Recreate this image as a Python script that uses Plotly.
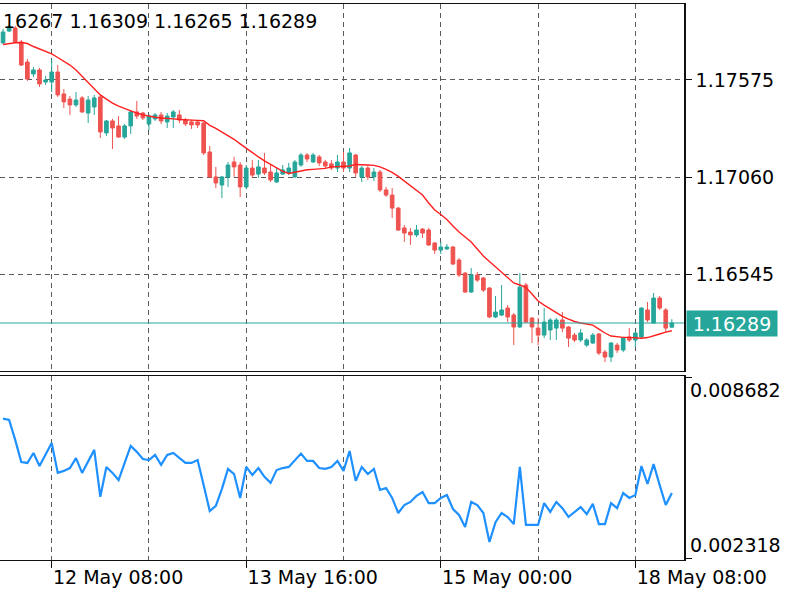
import plotly.graph_objects as go

# ---------------- data (EURUSD H1, 12 May 00:00 -> 18 May 14:00) ----------------
opens = [1.17771, 1.17834, 1.17850, 1.17776, 1.17670, 1.17607, 1.17628, 1.17564, 1.17564, 1.17617,
         1.17501, 1.17474, 1.17443, 1.17480, 1.17400, 1.17432, 1.17485, 1.17295, 1.17358, 1.17332,
         1.17273, 1.17332, 1.17406, 1.17400, 1.17342, 1.17369, 1.17390, 1.17353, 1.17379, 1.17390,
         1.17363, 1.17353, 1.17353, 1.17347, 1.17194, 1.17062, 1.17019, 1.17062, 1.17141, 1.17125,
         1.17009, 1.17109, 1.17077, 1.17109, 1.17088, 1.17035, 1.17077, 1.17083, 1.17062, 1.17125,
         1.17178, 1.17141, 1.17168, 1.17141, 1.17131, 1.17109, 1.17141, 1.17109, 1.17178, 1.17062,
         1.17109, 1.17062, 1.17088, 1.16993, 1.16966, 1.16897, 1.16792, 1.16770, 1.16755, 1.16786,
         1.16781, 1.16712, 1.16675, 1.16681, 1.16691, 1.16622, 1.16553, 1.16453, 1.16543, 1.16527,
         1.16474, 1.16321, 1.16331, 1.16368, 1.16331, 1.16268, 1.16490, 1.16315, 1.16262, 1.16225,
         1.16252, 1.16262, 1.16305, 1.16268, 1.16225, 1.16199, 1.16172, 1.16183, 1.16231, 1.16135,
         1.16109, 1.16172, 1.16146, 1.16215, 1.16199, 1.16215, 1.16358, 1.16289, 1.16421, 1.16358,
         1.16267]
highs = [1.17845, 1.17866, 1.17861, 1.17787, 1.17686, 1.17644, 1.17638, 1.17596, 1.17686, 1.17654,
         1.17527, 1.17490, 1.17511, 1.17490, 1.17490, 1.17496, 1.17496, 1.17363, 1.17369, 1.17384,
         1.17342, 1.17416, 1.17464, 1.17406, 1.17395, 1.17400, 1.17406, 1.17400, 1.17416, 1.17416,
         1.17374, 1.17363, 1.17363, 1.17353, 1.17226, 1.17115, 1.17067, 1.17141, 1.17168, 1.17141,
         1.17125, 1.17152, 1.17152, 1.17189, 1.17125, 1.17109, 1.17125, 1.17136, 1.17152, 1.17189,
         1.17189, 1.17189, 1.17178, 1.17152, 1.17152, 1.17178, 1.17194, 1.17215, 1.17184, 1.17120,
         1.17120, 1.17109, 1.17099, 1.17009, 1.17003, 1.16903, 1.16808, 1.16792, 1.16808, 1.16792,
         1.16792, 1.16718, 1.16718, 1.16707, 1.16697, 1.16633, 1.16559, 1.16580, 1.16559, 1.16532,
         1.16479, 1.16432, 1.16490, 1.16384, 1.16342, 1.16553, 1.16501, 1.16321, 1.16315, 1.16368,
         1.16315, 1.16315, 1.16347, 1.16273, 1.16236, 1.16257, 1.16209, 1.16236, 1.16236, 1.16146,
         1.16188, 1.16183, 1.16215, 1.16262, 1.16241, 1.16372, 1.16400, 1.16448, 1.16432, 1.16368,
         1.16309]
lows = [1.17766, 1.17829, 1.17771, 1.17649, 1.17570, 1.17591, 1.17538, 1.17549, 1.17511, 1.17485,
        1.17427, 1.17390, 1.17432, 1.17400, 1.17347, 1.17390, 1.17268, 1.17279, 1.17210, 1.17268,
        1.17263, 1.17289, 1.17369, 1.17363, 1.17310, 1.17358, 1.17342, 1.17321, 1.17321, 1.17347,
        1.17332, 1.17316, 1.17321, 1.17178, 1.17057, 1.17003, 1.16950, 1.17009, 1.17062, 1.16955,
        1.16998, 1.17057, 1.17057, 1.17072, 1.17035, 1.17030, 1.17072, 1.17072, 1.17057, 1.17115,
        1.17141, 1.17136, 1.17120, 1.17109, 1.17099, 1.17088, 1.17088, 1.17088, 1.17062, 1.17035,
        1.17046, 1.17041, 1.16982, 1.16956, 1.16845, 1.16776, 1.16718, 1.16702, 1.16744, 1.16739,
        1.16697, 1.16654, 1.16654, 1.16675, 1.16596, 1.16532, 1.16448, 1.16448, 1.16506, 1.16453,
        1.16315, 1.16315, 1.16326, 1.16294, 1.16172, 1.16262, 1.16289, 1.16183, 1.16172, 1.16209,
        1.16199, 1.16199, 1.16241, 1.16162, 1.16188, 1.16188, 1.16162, 1.16178, 1.16119, 1.16082,
        1.16082, 1.16130, 1.16135, 1.16188, 1.16162, 1.16209, 1.16294, 1.16284, 1.16358, 1.16241,
        1.16265]
closes = [1.17829, 1.17856, 1.17776, 1.17654, 1.17580, 1.17628, 1.17554, 1.17575, 1.17617, 1.17496,
          1.17459, 1.17443, 1.17469, 1.17406, 1.17469, 1.17480, 1.17300, 1.17358, 1.17321, 1.17273,
          1.17332, 1.17406, 1.17384, 1.17374, 1.17384, 1.17390, 1.17358, 1.17384, 1.17406, 1.17363,
          1.17342, 1.17337, 1.17337, 1.17189, 1.17062, 1.17030, 1.17062, 1.17125, 1.17115, 1.17009,
          1.17109, 1.17072, 1.17115, 1.17083, 1.17046, 1.17083, 1.17099, 1.17109, 1.17141, 1.17178,
          1.17157, 1.17178, 1.17136, 1.17120, 1.17109, 1.17141, 1.17109, 1.17189, 1.17083, 1.17109,
          1.17062, 1.17088, 1.16993, 1.16966, 1.16897, 1.16781, 1.16765, 1.16755, 1.16781, 1.16765,
          1.16702, 1.16675, 1.16691, 1.16691, 1.16601, 1.16543, 1.16453, 1.16543, 1.16516, 1.16463,
          1.16321, 1.16347, 1.16358, 1.16321, 1.16268, 1.16479, 1.16294, 1.16268, 1.16225, 1.16294,
          1.16305, 1.16305, 1.16262, 1.16209, 1.16199, 1.16236, 1.16199, 1.16225, 1.16130, 1.16109,
          1.16183, 1.16146, 1.16209, 1.16199, 1.16236, 1.16368, 1.16305, 1.16421, 1.16368, 1.16262,
          1.16289]
ma_values = [1.17763, 1.17768, 1.17772, 1.17773, 1.17768, 1.17752, 1.17739, 1.17726, 1.17713, 1.17694,
             1.17673, 1.17654, 1.17628, 1.17596, 1.17564, 1.17527, 1.17496, 1.17474, 1.17453, 1.17437,
             1.17424, 1.17411, 1.17400, 1.17390, 1.17382, 1.17378, 1.17374, 1.17373, 1.17369, 1.17366,
             1.17363, 1.17362, 1.17361, 1.17359, 1.17335, 1.17319, 1.17300, 1.17282, 1.17261, 1.17237,
             1.17213, 1.17192, 1.17168, 1.17147, 1.17128, 1.17109, 1.17091, 1.17080, 1.17086, 1.17096,
             1.17100, 1.17102, 1.17104, 1.17107, 1.17115, 1.17116, 1.17118, 1.17120, 1.17128, 1.17128,
             1.17125, 1.17123, 1.17115, 1.17102, 1.17086, 1.17065, 1.17041, 1.17014, 1.16993, 1.16966,
             1.16924, 1.16887, 1.16863, 1.16837, 1.16802, 1.16770, 1.16744, 1.16718, 1.16681, 1.16644,
             1.16614, 1.16585, 1.16559, 1.16530, 1.16501, 1.16490, 1.16477, 1.16442, 1.16405, 1.16384,
             1.16363, 1.16342, 1.16324, 1.16310, 1.16297, 1.16289, 1.16284, 1.16278, 1.16257, 1.16236,
             1.16220, 1.16215, 1.16213, 1.16213, 1.16209, 1.16208, 1.16212, 1.16220, 1.16231, 1.16241,
             1.16248]
indicator = [0.00722, 0.00717, 0.00647, 0.00569, 0.00566, 0.00601, 0.00555, 0.00594, 0.00636, 0.00531,
             0.00538, 0.00548, 0.00583, 0.00531, 0.00569, 0.00612, 0.00447, 0.00552, 0.00531, 0.00506,
             0.00566, 0.00626, 0.00605, 0.00580, 0.00576, 0.00594, 0.00559, 0.00594, 0.00601, 0.00583,
             0.00566, 0.00566, 0.00576, 0.00488, 0.00397, 0.00415, 0.00475, 0.00545, 0.00527, 0.00443,
             0.00552, 0.00524, 0.00548, 0.00517, 0.00496, 0.00541, 0.00548, 0.00552, 0.00576, 0.00599,
             0.00573, 0.00573, 0.00548, 0.00545, 0.00552, 0.00573, 0.00538, 0.00608, 0.00503, 0.00552,
             0.00527, 0.00545, 0.00471, 0.00478, 0.00443, 0.00390, 0.00418, 0.00429, 0.00450, 0.00464,
             0.00425, 0.00425, 0.00443, 0.00453, 0.00404, 0.00383, 0.00341, 0.00429, 0.00418, 0.00390,
             0.00288, 0.00358, 0.00390, 0.00376, 0.00351, 0.00552, 0.00348, 0.00348, 0.00348, 0.00425,
             0.00394, 0.00429, 0.00407, 0.00376, 0.00394, 0.00411, 0.00386, 0.00422, 0.00351, 0.00351,
             0.00425, 0.00407, 0.00460, 0.00443, 0.00453, 0.00555, 0.00492, 0.00562, 0.00488, 0.00418,
             0.00460]

bar_index = list(range(len(opens)))
time_tick_index = [8, 40, 72, 104]
time_tick_labels = ["12 May 08:00", "13 May 16:00", "15 May 00:00", "18 May 08:00"]
time_minor_index = [24, 56, 88]
price_ticks = [1.16545, 1.17060, 1.17575]
ind_max, ind_min = 0.008682, 0.002318
header_text = "16267 1.16309 1.16265 1.16289"

# ---------------- styling ----------------
GREEN = "#26a69a"
RED = "#ef5350"
MA_COLOR = "#ff1f1f"
BLUE = "#1e90ff"
GRID = "#5a5a5a"
DASH = "5px,4px"
FONT = "DejaVu Sans"
FS = 19
BORDER = "#111111"

fig = go.Figure()
fig.add_trace(go.Candlestick(
    x=bar_index, open=opens, high=highs, low=lows, close=closes,
    xaxis="x2", yaxis="y",
    increasing=dict(line=dict(color=GREEN, width=1), fillcolor=GREEN),
    decreasing=dict(line=dict(color=RED, width=1), fillcolor=RED),
    whiskerwidth=0, showlegend=False, hoverinfo="skip"))
fig.add_trace(go.Scatter(x=bar_index, y=ma_values, xaxis="x2", yaxis="y", mode="lines",
                         line=dict(color=MA_COLOR, width=1.4), showlegend=False, hoverinfo="skip"))
fig.add_trace(go.Scatter(x=bar_index, y=indicator, xaxis="x", yaxis="y2", mode="lines",
                         line=dict(color=BLUE, width=2.2), showlegend=False, hoverinfo="skip"))

main_bottom = (560 - 371) / 556
sub_top = (560 - 376) / 556

common_x = dict(range=[-0.5, 112.0], domain=[0, 1], showline=True, mirror=True,
                linecolor=BORDER, linewidth=1.2, showgrid=True, gridcolor=GRID,
                griddash=DASH, gridwidth=1, zeroline=False, automargin=False,
                tickvals=time_tick_index, fixedrange=True,
                minor=dict(tickvals=time_minor_index, showgrid=True, gridcolor=GRID,
                           griddash=DASH, gridwidth=1, ticks=""),
                rangeslider=dict(visible=False))

fig.update_layout(
    width=800, height=600,
    margin=dict(l=0, r=116, t=4, b=40),
    paper_bgcolor="white", plot_bgcolor="white",
    font=dict(family=FONT, size=FS, color="black"),
    boxgap=0.4, boxgroupgap=0,
    xaxis=dict(**common_x, anchor="y2", ticktext=time_tick_labels, ticks="outside",
               ticklen=7, tickcolor=BORDER, tickwidth=1.4, ticklabelposition="outside right",
               tickfont=dict(family=FONT, size=FS, color="black")),
    xaxis2=dict(**common_x, anchor="y", matches="x", showticklabels=False, ticks=""),
    yaxis=dict(domain=[main_bottom, 1], anchor="x2", side="right",
               range=[1.16035, 1.17977], tickvals=price_ticks,
               ticktext=[f"{v:.5f}" for v in price_ticks],
               ticks="outside", ticklen=6, tickcolor=BORDER, tickwidth=1.4,
               showline=True, linecolor=BORDER, linewidth=1.6,
               showgrid=True, gridcolor=GRID, griddash=DASH, gridwidth=1,
               zeroline=False, automargin=False, fixedrange=True,
               tickfont=dict(family=FONT, size=FS, color="black")),
    yaxis2=dict(domain=[0, sub_top], anchor="x", side="right",
                range=[0.002248, 0.008717], tickvals=[ind_min, ind_max],
                showticklabels=False, ticks="outside", ticklen=6, tickcolor=BORDER, tickwidth=1.4,
                showline=True, linecolor=BORDER, linewidth=1.6, showgrid=False,
                zeroline=False, automargin=False, fixedrange=True),
)

# current price line
fig.add_shape(type="line", xref="x2 domain", yref="y", x0=0, x1=1,
              y0=closes[-1], y1=closes[-1], line=dict(color=GREEN, width=1))

# current price tag
fig.add_annotation(xref="paper", yref="y", x=1, y=closes[-1], xanchor="left", yanchor="middle",
                   xshift=2, text=f"{closes[-1]:.5f}", showarrow=False,
                   bgcolor=GREEN, borderpad=2, width=86, height=21,
                   font=dict(family=FONT, size=FS, color="white"))

# indicator scale labels
fig.add_annotation(xref="paper", yref="y2", x=1, y=ind_max, xanchor="left", yanchor="top",
                   xshift=4, text=f"{ind_max:.6f}", showarrow=False,
                   font=dict(family=FONT, size=FS, color="black"))
fig.add_annotation(xref="paper", yref="y2", x=1, y=ind_min, xanchor="left", yanchor="bottom",
                   xshift=4, text=f"{ind_min:.6f}", showarrow=False,
                   font=dict(family=FONT, size=FS, color="black"))

# OHLC header
fig.add_annotation(xref="paper", yref="paper", x=0, y=1, xanchor="left", yanchor="top",
                   xshift=1, yshift=-4, text=header_text, showarrow=False,
                   font=dict(family=FONT, size=FS, color="black"))

fig.write_html("out.html")
